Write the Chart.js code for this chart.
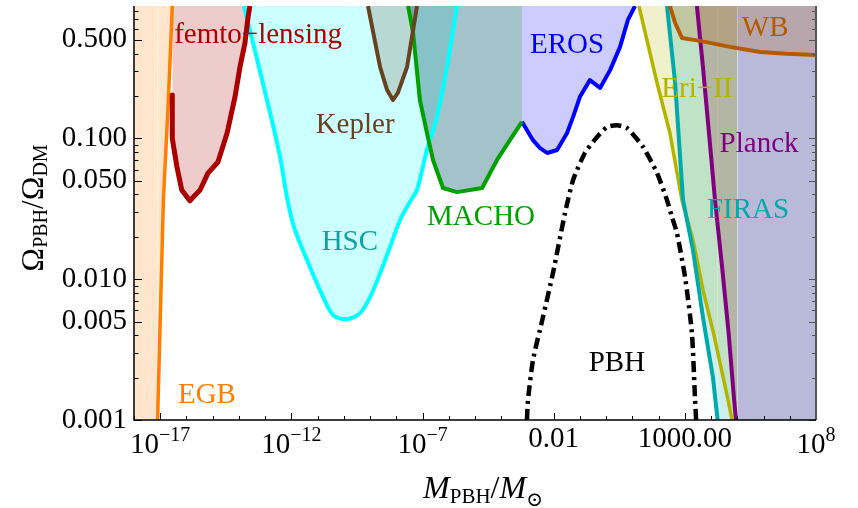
<!DOCTYPE html>
<html>
<head>
<meta charset="utf-8">
<script src="https://cdn.jsdelivr.net/npm/chart.js@4.4.1/dist/chart.umd.min.js"></script>
<style>
  html, body { margin: 0; padding: 0; background: #fff; }
  #wrap { width: 858px; height: 508px; }
</style>
</head>
<body>
<div id="wrap"><canvas id="pbhChart" width="858" height="508"></canvas></div>
<script>
// Axis ranges: M_PBH/M_sun and Omega_PBH/Omega_DM
const X_MIN = 1e-18, X_MAX = 1e8;
const Y_MIN = 0.001, Y_MAX = 0.87;

// Each bound: log10(M/M_sun) and the fraction f at that mass
const egbLogM = [-18, -17.1, -16.88, -16.69, -16.54];
const egbF = [0.001, 0.001, 0.0364, 0.187, 0.87];

const femtoLogM = [-16.54, -16.54, -16.37, -16.18, -15.87, -15.48, -15.18, -14.80, -14.45, -14.15, -13.96, -13.77, -13.65, -13.58];
const femtoF = [0.203, 0.100, 0.0636, 0.043, 0.036, 0.043, 0.0566, 0.0679, 0.109, 0.197, 0.321, 0.475, 0.728, 0.87];

const hscLogM = [-13.81, -12.93, -12.43, -12.17, -11.90, -11.40, -10.91, -10.41, -9.88, -9.38, -9.00, -8.62, -8.24, -7.86, -7.44, -7.21, -6.83, -6.45, -6.07, -5.69];
const hscF = [0.87, 0.187, 0.0736, 0.0383, 0.0234, 0.0136, 0.00836, 0.00555, 0.0052, 0.00574, 0.00745, 0.0110, 0.0169, 0.0262, 0.0364, 0.043, 0.0826, 0.142, 0.321, 0.87];

const keplerLogM = [-9.08, -8.62, -8.35, -8.13, -7.94, -7.59, -7.21];
const keplerF = [0.87, 0.321, 0.220, 0.187, 0.210, 0.321, 0.87];

const machoLogM = [-7.55, -7.36, -7.10, -6.83, -6.60, -6.22, -5.69, -4.73, -4.16, -3.67, -3.21, -3.21];
const machoF = [0.87, 0.560, 0.187, 0.109, 0.0702, 0.0444, 0.0415, 0.0444, 0.0702, 0.097, 0.131, 0.87];

const erosLogM = [-3.21, -3.21, -2.79, -2.52, -2.25, -1.87, -1.49, -1.26, -1.00, -0.62, -0.23, 0.15, 0.53, 0.83, 1.10];
const erosF = [0.87, 0.131, 0.097, 0.0853, 0.0787, 0.0826, 0.109, 0.142, 0.197, 0.259, 0.228, 0.305, 0.446, 0.693, 0.87];

const eriLogM = [1.25, 1.94, 2.43, 2.89, 3.31, 3.69, 4.11, 4.65, 4.80, 5.0];
const eriF = [0.87, 0.247, 0.109, 0.0364, 0.0190, 0.0084, 0.0040, 0.00138, 0.001, 0.001];

const firasLogM = [2.32, 2.63, 2.93, 3.31, 3.69, 4.07, 4.25, 5.0];
const firasF = [0.87, 0.247, 0.0364, 0.0161, 0.00537, 0.00201, 0.001, 0.001];

const planckLogM = [3.46, 3.69, 3.92, 4.15, 4.42, 4.67, 4.88, 4.95, 5.0];
const planckF = [0.87, 0.321, 0.109, 0.0364, 0.0122, 0.00413, 0.00138, 0.001, 0.001];

const wbLogM = [2.43, 2.63, 2.89, 3.58, 4.72, 5.87, 6.90, 8.0];
const wbF = [0.87, 0.659, 0.516, 0.492, 0.446, 0.410, 0.398, 0.391];

const heavyLogM = [5.0, 8.0];
const heavyF = [0.001, 0.001];

// Log-normal PBH mass function
const pbhLogM = [-3.02, -2.98, -2.79, -2.41, -2.03, -1.57, -1.26, -0.81, -0.35, 0.03, 0.41, 0.80, 1.41, 1.94, 2.32, 2.51, 2.70, 3.01, 3.27, 3.39, 3.43];
const pbhF = [0.001, 0.00138, 0.00266, 0.00537, 0.0110, 0.0294, 0.0506, 0.0787, 0.102, 0.120, 0.124, 0.118, 0.0867, 0.0566, 0.0364, 0.0276, 0.0212, 0.0103, 0.00413, 0.00138, 0.001];

// Tick values and labels
const xTickValues = [1e-17, 1e-12, 1e-7, 1e-2, 1e3, 1e8];
const xTickLabels = ['10^\u221217', '10^\u221212', '10^\u22127', '0.01', '1000.00', '10^8'];
const yTickValues = [0.001, 0.005, 0.01, 0.05, 0.1, 0.5];
const yTickLabels = ['0.001', '0.005', '0.010', '0.050', '0.100', '0.500'];

const serif = "'Liberation Serif', 'DejaVu Serif', serif";

function pts(logM, f) {
    return logM.map((m, i) => ({ x: Math.pow(10, m), y: f[i] }));
}

// segments that only close a region along the plot edge get no stroke
const hideEdge = ctx => {
    const a = ctx.p0.parsed, b = ctx.p1.parsed;
    const flat = a.y === b.y && (a.y === Y_MIN || a.y === Y_MAX);
    const riser = a.x === b.x && (a.y === Y_MAX || b.y === Y_MAX);
    return (flat || riser) ? 'rgba(0,0,0,0)' : undefined;
};

function region(label, logM, f, line, fillColor, width, tension) {
    return {
        label: label,
        data: pts(logM, f),
        borderColor: line,
        backgroundColor: fillColor,
        borderWidth: width,
        fill: 'end',
        pointRadius: 0,
        tension: tension || 0,
        borderJoinStyle: 'round',
        segment: { borderColor: hideEdge }
    };
}

const datasets = [
    {
        label: 'PBH',
        data: pts(pbhLogM, pbhF),
        borderColor: '#000',
        borderWidth: 4.5,
        borderDash: [11, 5, 3, 5],
        fill: false,
        pointRadius: 0,
        tension: 0.2
    },
    region('femto-lensing', femtoLogM, femtoF, 'rgb(170,0,0)', 'rgba(170,0,0,0.2)', 5),
    region('Kepler', keplerLogM, keplerF, 'rgb(101,67,33)', 'rgba(101,67,33,0.2)', 4),
    region('MACHO', machoLogM, machoF, 'rgb(0,160,0)', 'rgba(60,125,140,0.47)', 4),
    region('EROS', erosLogM, erosF, 'rgb(0,0,255)', 'rgba(0,0,255,0.2)', 4),
    region('HSC', hscLogM, hscF, 'rgb(0,255,255)', 'rgba(0,255,255,0.2)', 4, 0.3),
    region('WB', wbLogM, wbF, 'rgb(180,90,0)', 'rgba(180,90,0,0.2)', 4),
    region('Planck', planckLogM, planckF, 'rgb(128,0,128)', 'rgba(150,80,90,0.3)', 4),
    region('FIRAS', firasLogM, firasF, 'rgb(0,170,170)', 'rgba(0,170,170,0.2)', 4),
    region('Eri-II', eriLogM, eriF, 'rgb(180,180,0)', 'rgba(180,180,0,0.2)', 3.5),
    region('heavy', heavyLogM, heavyF, 'rgba(0,0,0,0)', 'rgba(100,100,170,0.45)', 0),
    region('EGB', egbLogM, egbF, 'rgb(255,127,0)', 'rgba(255,127,0,0.2)', 3.5)
];

// text labels placed at (log10 M, f) positions
const regionLabels = [
    { text: 'femto\u2212lensing', lm: -13.27, f: 0.475, color: 'rgb(170,0,0)' },
    { text: 'Kepler', lm: -9.57, f: 0.109, color: 'rgb(101,67,33)' },
    { text: 'HSC', lm: -9.77, f: 0.0161, color: 'rgb(20,160,160)' },
    { text: 'MACHO', lm: -4.77, f: 0.0242, color: 'rgb(0,160,0)' },
    { text: 'EROS', lm: -1.49, f: 0.404, color: 'rgb(0,0,235)' },
    { text: 'Eri\u2212II', lm: 3.46, f: 0.197, color: 'rgb(180,180,0)' },
    { text: 'Planck', lm: 5.83, f: 0.080, color: 'rgb(128,0,128)' },
    { text: 'FIRAS', lm: 5.41, f: 0.0271, color: 'rgb(0,170,170)' },
    { text: 'WB', lm: 6.06, f: 0.533, color: 'rgb(180,90,0)' },
    { text: 'PBH', lm: 0.41, f: 0.00222, color: '#000' },
    { text: 'EGB', lm: -15.22, f: 0.00131, color: 'rgb(255,127,0)' }
];

function drawRuns(ctx, runs, x, y) {
    let w = 0;
    runs.forEach(r => { ctx.font = r[1]; w += ctx.measureText(r[0]).width; });
    let cx = x - w / 2;
    runs.forEach(r => {
        ctx.font = r[1];
        ctx.fillText(r[0], cx, y + r[2]);
        cx += ctx.measureText(r[0]).width;
    });
}

// frame with inward ticks, region names, x tick labels and axis titles
const framePlugin = {
    id: 'frame',
    afterDatasetsDraw(chart) {
        const { ctx, chartArea: a, scales: { x, y } } = chart;
        ctx.save();

        // ticks
        const yMinor = [];
        [0.001, 0.01, 0.1].forEach(d => {
            for (let k = 2; k <= 9; k++) {
                const v = k * d;
                if (v <= Y_MAX && k !== 5) yMinor.push(v);
            }
        });
        ctx.lineWidth = 1;
        ctx.strokeStyle = '#000';
        ctx.beginPath();
        yTickValues.forEach(v => {
            const py = Math.round(y.getPixelForValue(v)) + 0.5;
            ctx.moveTo(a.left, py); ctx.lineTo(a.left + 8, py);
        });
        yMinor.forEach(v => {
            const py = Math.round(y.getPixelForValue(v)) + 0.5;
            ctx.moveTo(a.left, py); ctx.lineTo(a.left + 4.5, py);
        });
        for (let e = -18; e <= 8; e++) {
            const px = Math.round(x.getPixelForValue(Math.pow(10, e))) + 0.5;
            const major = xTickValues.some(v => Math.abs(Math.log10(v) - e) < 1e-6);
            ctx.moveTo(px, a.bottom); ctx.lineTo(px, a.bottom - (major ? 7 : 4));
        }
        ctx.stroke();

        ctx.strokeStyle = '#555';
        ctx.beginPath();
        yTickValues.forEach(v => {
            const py = Math.round(y.getPixelForValue(v)) + 0.5;
            ctx.moveTo(a.right, py); ctx.lineTo(a.right - 7, py);
        });
        yMinor.forEach(v => {
            const py = Math.round(y.getPixelForValue(v)) + 0.5;
            ctx.moveTo(a.right, py); ctx.lineTo(a.right - 4, py);
        });
        ctx.stroke();

        // frame
        ctx.lineWidth = 2;
        ctx.strokeStyle = '#555';
        ctx.beginPath();
        ctx.moveTo(a.right, a.top); ctx.lineTo(a.right, a.bottom);
        ctx.stroke();
        ctx.lineWidth = 1.5;
        ctx.strokeStyle = '#000';
        ctx.beginPath();
        ctx.moveTo(a.left, a.top); ctx.lineTo(a.left, a.bottom); ctx.lineTo(a.right, a.bottom);
        ctx.stroke();

        // region names
        ctx.textAlign = 'center';
        ctx.textBaseline = 'alphabetic';
        ctx.font = '29px ' + serif;
        regionLabels.forEach(l => {
            ctx.fillStyle = l.color;
            ctx.fillText(l.text, x.getPixelForValue(Math.pow(10, l.lm)), y.getPixelForValue(l.f));
        });

        // x tick labels, powers of ten with raised exponents
        ctx.textAlign = 'left';
        ctx.fillStyle = '#000';
        xTickValues.forEach((v, i) => {
            const px = x.getPixelForValue(v);
            const parts = xTickLabels[i].split('^');
            if (parts.length === 2) {
                drawRuns(ctx, [[parts[0], '29px ' + serif, 0], [parts[1], '20px ' + serif, -12]], px, 453);
            } else {
                drawRuns(ctx, [[parts[0], '29px ' + serif, 0]], px, 447);
            }
        });

        // axis titles
        drawRuns(ctx, [
            ['M', 'italic 32px ' + serif, 0],
            ['PBH', '21px ' + serif, 5],
            ['/', '32px ' + serif, 0],
            ['M', 'italic 32px ' + serif, 0],
            ['\u2299', '20px ' + serif, 8]
        ], 483, 498);

        ctx.translate(43, 208);
        ctx.rotate(-Math.PI / 2);
        drawRuns(ctx, [
            ['\u03A9', '32px ' + serif, 0],
            ['PBH', '20px ' + serif, 4],
            ['/', '31px ' + serif, 0],
            ['\u03A9', '32px ' + serif, 0],
            ['DM', '20px ' + serif, 4]
        ], 0, 0);

        ctx.restore();
    }
};

function initChart() {
    const canvas = document.getElementById('pbhChart');
    if (!canvas) {
        console.error('Canvas element not found');
        return;
    }
    new Chart(canvas, {
        type: 'line',
        data: { datasets: datasets },
        options: {
            responsive: false,
            animation: false,
            layout: { padding: { top: 6, right: 42, left: 0, bottom: 0 } },
            plugins: {
                legend: { display: false },
                tooltip: { enabled: false },
                filler: { drawTime: 'beforeDatasetsDraw' }
            },
            scales: {
                x: {
                    type: 'logarithmic',
                    min: X_MIN,
                    max: X_MAX,
                    grid: { display: false, drawTicks: false },
                    border: { display: false },
                    ticks: { display: false },
                    afterBuildTicks: s => { s.ticks = xTickValues.map(v => ({ value: v })); },
                    afterFit: s => { s.height = 88; s.paddingLeft = 0; s.paddingRight = 0; }
                },
                y: {
                    type: 'logarithmic',
                    min: Y_MIN,
                    max: Y_MAX,
                    grid: { display: false, drawTicks: false },
                    border: { display: false },
                    ticks: {
                        autoSkip: false,
                        padding: 7,
                        color: '#000',
                        font: { family: serif, size: 29 },
                        callback: (v, i) => yTickLabels[i]
                    },
                    afterBuildTicks: s => { s.ticks = yTickValues.map(v => ({ value: v })); },
                    afterFit: s => { s.width = 134; s.paddingTop = 0; s.paddingBottom = 0; }
                }
            }
        },
        plugins: [framePlugin]
    });
}

document.addEventListener('DOMContentLoaded', initChart);
</script>
</body>
</html>
